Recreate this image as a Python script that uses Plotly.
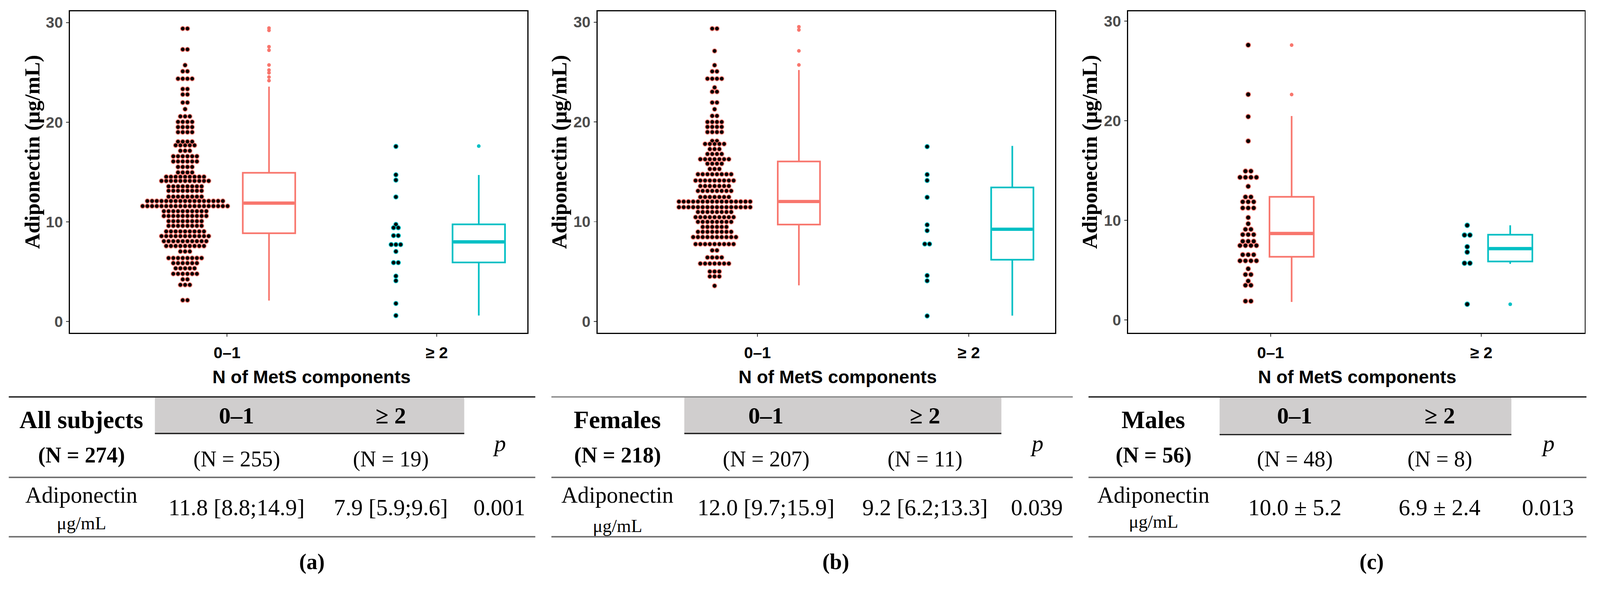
import plotly.graph_objects as go

W, H = 4370, 1577

categories = ["0–1", "≥ 2"]
cat_pos = [1, 2]

# ---------------- Panel (a): all subjects ----------------
a_g1_vals = [29.39, 27.30, 25.72, 25.10, 24.36, 23.33, 22.78, 21.97, 21.31, 20.58,
             20.03, 19.51, 19.00, 18.05, 17.68, 17.13, 16.58, 16.06, 15.51, 14.96,
             14.52, 14.11, 13.56, 13.12, 12.53, 12.09, 11.58, 11.07, 10.59, 10.07,
             9.60, 9.04, 8.57, 8.06, 7.58, 7.03, 6.37, 5.86, 5.34, 4.79,
             4.23, 3.68, 2.14]
a_g1_cnts = [2, 2, 1, 2, 4, 2, 2, 2, 1, 3,
             4, 4, 4, 4, 5, 3, 6, 6, 4, 4,
             9, 11, 8, 8, 8, 17, 19, 10, 10, 8,
             8, 9, 11, 10, 9, 3, 8, 6, 5, 6,
             2, 3, 2]
a_g2_vals = [17.57, 14.72, 14.19, 12.50, 9.74, 9.41, 8.62, 7.72, 7.03, 5.91, 4.56, 4.09, 1.81, 0.60]
a_g2_cnts = [1, 1, 1, 1, 1, 2, 2, 3, 1, 2, 1, 1, 1, 1]
a_box_q1 = [8.86, 5.93]
a_box_med = [11.88, 7.99]
a_box_q3 = [14.92, 9.75]
a_box_lo = [2.10, 0.60]
a_box_hi = [23.57, 14.70]
a_out_g1 = [29.44, 29.21, 27.57, 27.22, 25.74, 25.23, 24.95, 24.53, 24.17]
a_out_g2 = [17.60]

# ---------------- Panel (b): females ----------------
b_g1_vals = [29.35, 27.11, 25.68, 25.06, 24.33, 23.45, 23.02, 21.94, 21.27, 20.60,
             19.99, 19.50, 18.98, 18.09, 17.79, 17.27, 16.78, 16.26, 15.81, 15.28,
             14.75, 14.12, 13.57, 13.08, 12.47, 12.01, 11.45, 10.97, 10.45, 9.98,
             9.47, 8.98, 8.45, 7.75, 7.12, 6.41, 5.80, 5.00, 4.51, 3.57]
b_g1_cnts = [2, 1, 1, 2, 4, 1, 2, 2, 1, 2,
             4, 4, 4, 2, 5, 3, 4, 7, 4, 3,
             8, 9, 7, 8, 7, 16, 16, 8, 9, 8,
             6, 8, 10, 9, 2, 4, 7, 3, 3, 1]
b_g2_vals = [17.52, 14.72, 14.13, 12.44, 9.68, 9.10, 7.76, 4.60, 4.07, 0.55]
b_g2_cnts = [1, 1, 1, 1, 1, 1, 2, 1, 1, 1]
b_box_q1 = [9.71, 6.19]
b_box_med = [12.02, 9.24]
b_box_q3 = [16.03, 13.43]
b_box_lo = [3.62, 0.58]
b_box_hi = [25.20, 17.59]
b_out_g1 = [29.53, 29.22, 27.12, 25.71]
b_out_g2 = []

# ---------------- Panel (c): males ----------------
c_g1_vals = [27.59, 22.63, 20.40, 17.95, 14.93, 14.31, 13.40, 12.34, 11.85, 11.23,
             10.27, 9.65, 9.09, 8.56, 7.89, 7.46, 6.54, 5.93, 5.13, 4.55,
             3.90, 3.47, 1.88]
c_g1_cnts = [1, 1, 1, 1, 2, 4, 1, 2, 3, 3,
             1, 1, 2, 3, 3, 4, 3, 4, 1, 2,
             1, 2, 2]
c_g2_vals = [9.49, 8.51, 7.34, 6.80, 5.69, 1.57]
c_g2_cnts = [1, 2, 1, 1, 2, 1]
c_box_q1 = [6.33, 5.86]
c_box_med = [8.67, 7.15]
c_box_q3 = [12.35, 8.55]
c_box_lo = [1.80, 5.62]
c_box_hi = [20.46, 9.49]
c_out_g1 = [27.58, 22.62]
c_out_g2 = [1.57]

y_ticks = [0, 10, 20, 30]

# ---------------- Table contents ----------------
tbl_group = ["All subjects", "Females", "Males"]
tbl_total = ["(N = 274)", "(N = 218)", "(N = 56)"]
tbl_n1 = ["(N = 255)", "(N = 207)", "(N = 48)"]
tbl_n2 = ["(N = 19)", "(N = 11)", "(N = 8)"]
tbl_v1 = ["11.8 [8.8;14.9]", "12.0 [9.7;15.9]", "10.0 ± 5.2"]
tbl_v2 = ["7.9 [5.9;9.6]", "9.2 [6.2;13.3]", "6.9 ± 2.4"]
tbl_p = ["0.001", "0.039", "0.013"]
captions = ["(a)", "(b)", "(c)"]

SALMON = "#F8766D"
CYAN = "#00BFC4"

panels = [
    dict(ax="x", ay="y", frame=(191, 1440), xr=[0.251, 2.431], yr=[-1.13, 31.12],
         dots=[(a_g1_vals, a_g1_cnts), (a_g2_vals, a_g2_cnts)], doff=[-0.20, -0.195],
         boff=[0.20, 0.20], bw=0.25, dx=0.0225, msize=12,
         q1=a_box_q1, med=a_box_med, q3=a_box_q3, lo=a_box_lo, hi=a_box_hi,
         outs=[a_out_g1, a_out_g2],
         ytitle_x=88, xtitle_x=851, cap_x=852,
         tl=(24, 1462), rect=(423, 1268), cols=(222, 646, 1067, 1364),
         topcol="#111111", hdr_y=1184, unit_y=1429),
    dict(ax="x2", ay="y2", frame=(1632, 2882), xr=[0.243, 2.409], yr=[-1.14, 31.08],
         dots=[(b_g1_vals, b_g1_cnts), (b_g2_vals, b_g2_cnts)], doff=[-0.203, -0.197],
         boff=[0.196, 0.206], bw=0.20, dx=0.0225, msize=12,
         q1=b_box_q1, med=b_box_med, q3=b_box_q3, lo=b_box_lo, hi=b_box_hi,
         outs=[b_out_g1, b_out_g2],
         ytitle_x=1527, xtitle_x=2288, cap_x=2282,
         tl=(1506, 2930), rect=(1869, 2735), cols=(1686, 2092, 2526, 2832),
         topcol="#7F7F7F", hdr_y=1184, unit_y=1436),
    dict(ax="x3", ay="y3", frame=(3081, 4328), xr=[0.324, 2.49], yr=[-1.30, 30.97],
         dots=[(c_g1_vals, c_g1_cnts), (c_g2_vals, c_g2_cnts)], doff=[-0.106, -0.067],
         boff=[0.10, 0.137], bw=0.21, dx=0.026, msize=13,
         q1=c_box_q1, med=c_box_med, q3=c_box_q3, lo=c_box_lo, hi=c_box_hi,
         outs=[c_out_g1, c_out_g2],
         ytitle_x=2976, xtitle_x=3707, cap_x=3746,
         tl=(2973, 4333), rect=(3331, 4128), cols=(3150, 3536, 3932, 4228),
         topcol="#111111", hdr_y=1187, unit_y=1424),
]


def px(x):
    return x / W


def py(y):
    return 1 - y / H


fig = go.Figure()
shapes = []
annotations = []

SANS = "Liberation Sans, Arial, sans-serif"
SERIF = "Liberation Serif, Times New Roman, serif"

layout_axes = {}
for k, p in enumerate(panels):
    colors = [SALMON, CYAN]
    # dot plots (centred stacks, one row per bin)
    for g in range(2):
        vals, cnts = p["dots"][g]
        center = cat_pos[g] + p["doff"][g]
        xs, ys = [], []
        for v, n in zip(vals, cnts):
            for i in range(n):
                xs.append(center + (i - (n - 1) / 2) * p["dx"])
                ys.append(v)
        fig.add_trace(go.Scatter(
            x=xs, y=ys, mode="markers", xaxis=p["ax"], yaxis=p["ay"],
            marker=dict(size=p["msize"], color="black", line=dict(color=colors[g], width=2)),
            showlegend=False, hoverinfo="skip"))
    # boxes
    for g in range(2):
        pos = cat_pos[g] + p["boff"][g]
        fig.add_trace(go.Box(
            x=[pos], q1=[p["q1"][g]], median=[p["med"][g]], q3=[p["q3"][g]],
            lowerfence=[p["lo"][g]], upperfence=[p["hi"][g]],
            width=p["bw"], whiskerwidth=0, boxpoints=False,
            line=dict(color=colors[g], width=4.5), fillcolor="rgba(255,255,255,0)",
            xaxis=p["ax"], yaxis=p["ay"], showlegend=False, hoverinfo="skip"))
        # thick median line (ggplot fatten)
        fig.add_trace(go.Scatter(
            x=[pos - p["bw"] / 2 + 0.004, pos + p["bw"] / 2 - 0.004],
            y=[p["med"][g], p["med"][g]], mode="lines",
            line=dict(color=colors[g], width=9), xaxis=p["ax"], yaxis=p["ay"],
            showlegend=False, hoverinfo="skip"))
        if p["outs"][g]:
            fig.add_trace(go.Scatter(
                x=[pos] * len(p["outs"][g]), y=p["outs"][g], mode="markers",
                marker=dict(size=10, color=colors[g], line=dict(width=0)),
                xaxis=p["ax"], yaxis=p["ay"], showlegend=False, hoverinfo="skip"))

    sfx = "" if k == 0 else str(k + 1)
    l, r = p["frame"]
    layout_axes["xaxis" + sfx] = dict(
        domain=[px(l), px(r)], range=p["xr"], anchor="y" + sfx,
        tickmode="array", tickvals=cat_pos, ticktext=categories,
        showline=True, linecolor="black", linewidth=2.5, mirror=True,
        ticks="outside", ticklen=8, tickwidth=2, tickcolor="#333333",
        showgrid=False, zeroline=False, ticklabelstandoff=6,
        tickfont=dict(family=SANS, size=44, color="black", weight="bold"))
    layout_axes["yaxis" + sfx] = dict(
        domain=[py(909), py(31)], range=p["yr"], anchor="x" + sfx,
        tickmode="array", tickvals=y_ticks, ticktext=[str(t) for t in y_ticks],
        showline=True, linecolor="black", linewidth=2.5, mirror=True,
        ticks="outside", ticklen=8, tickwidth=2, tickcolor="#333333",
        showgrid=False, zeroline=False,
        tickfont=dict(family=SANS, size=42, color="#4D4D4D", weight="bold"))

    # axis titles
    annotations.append(dict(
        x=px(p["ytitle_x"]), y=py(415), xref="paper", yref="paper",
        text="<b>Adiponectin (μg/mL)</b>", textangle=-90, showarrow=False,
        xanchor="center", yanchor="middle",
        font=dict(family=SERIF, size=59, color="black")))
    annotations.append(dict(
        x=px(p["xtitle_x"]), y=py(1030), xref="paper", yref="paper",
        text="<b>N of MetS components</b>", showarrow=False,
        xanchor="center", yanchor="middle",
        font=dict(family=SANS, size=50, color="black")))

    # table
    tl0, tl1 = p["tl"]
    r0, r1 = p["rect"]
    c0, c1, c2, c3 = p["cols"]
    shapes.append(dict(type="rect", xref="paper", yref="paper",
                       x0=px(r0), x1=px(r1), y0=py(p["hdr_y"]), y1=py(1086),
                       fillcolor="#D0CECE", line=dict(width=0), layer="below"))
    shapes.append(dict(type="line", xref="paper", yref="paper",
                       x0=px(tl0), x1=px(tl1), y0=py(1084), y1=py(1084),
                       line=dict(color=p["topcol"], width=3.5)))
    shapes.append(dict(type="line", xref="paper", yref="paper",
                       x0=px(r0), x1=px(r1), y0=py(p["hdr_y"]), y1=py(p["hdr_y"]),
                       line=dict(color="#222222", width=3.5)))
    for yy in (1304, 1466):
        shapes.append(dict(type="line", xref="paper", yref="paper",
                           x0=px(tl0), x1=px(tl1), y0=py(yy), y1=py(yy),
                           line=dict(color="#6E6E6E", width=4)))

    def txt(x, y, s, size, bold=False, italic=False):
        if bold:
            s = "<b>" + s + "</b>"
        if italic:
            s = "<i>" + s + "</i>"
        annotations.append(dict(x=px(x), y=py(y), xref="paper", yref="paper",
                                text=s, showarrow=False, xanchor="center",
                                yanchor="middle",
                                font=dict(family=SERIF, size=size, color="black")))

    txt(c0, 1146, tbl_group[k], 68, bold=True)
    txt(c1, 1134, categories[0], 64, bold=True)
    txt(c2, 1134, categories[1], 64, bold=True)
    txt(c0, 1243, tbl_total[k], 60, bold=True)
    txt(c1, 1254, tbl_n1[k], 60)
    txt(c2, 1254, tbl_n2[k], 60)
    txt(c3, 1210, "p", 64, italic=True)
    txt(c0, 1352, "Adiponectin", 62)
    txt(c0, p["unit_y"], "μg/mL", 50)
    txt(c1, 1386, tbl_v1[k], 63)
    txt(c2, 1386, tbl_v2[k], 63)
    txt(c3, 1386, tbl_p[k], 63)
    txt(p["cap_x"], 1534, captions[k], 60, bold=True)

fig.update_layout(
    width=W, height=H, autosize=False,
    margin=dict(l=0, r=0, t=0, b=0),
    paper_bgcolor="white", plot_bgcolor="white",
    shapes=shapes, annotations=annotations,
    **layout_axes)

# Fit the fixed-size figure exactly into the browser viewport.
fit_js = """
(function(){
  var gd = document.getElementById('{plot_id}');
  var de = document.documentElement, b = document.body;
  de.style.margin = '0'; b.style.margin = '0';
  de.style.overflow = 'hidden'; b.style.overflow = 'hidden';
  var s = Math.min(window.innerWidth / %d, window.innerHeight / %d);
  gd.style.transformOrigin = '0 0';
  gd.style.transform = 'scale(' + s + ')';
})();
""" % (W, H)

fig.write_html("out.html", post_script=fit_js, config={"displayModeBar": False})
